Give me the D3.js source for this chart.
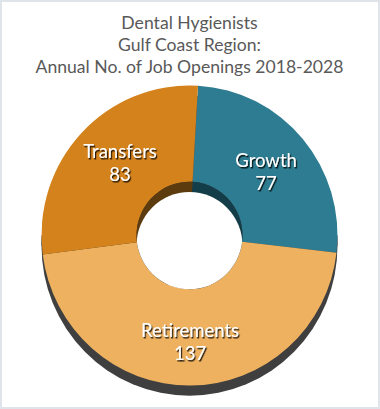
<!DOCTYPE html>
<html><head><meta charset="utf-8">
<script src="https://cdn.jsdelivr.net/npm/d3@7"></script>
<style>
html,body{margin:0;padding:0;background:#fff;}
svg{display:block;}
</style></head>
<body>
<script>
const titleLines = ["Dental Hygienists", "Gulf Coast Region:", "Annual No. of Job Openings 2018-2028"];
const categories = ["Growth", "Retirements", "Transfers"];
const values = [77, 137, 83];
const topColors = ["#2e7c91", "#eeb160", "#d4821b"];
const wallColors = ["#133d48", "#7a5a30", "#5c3b0f"];

const W = 380, H = 409;
const cx = 189.5, cy = 235.5, rOut = 148, rIn = 53, depth = 10, sy = 1.014;
const startAngle = 3.3 * Math.PI / 180;

const svg = d3.select("body").append("svg").attr("width", W).attr("height", H);
const defs = svg.append("defs");
const f = defs.append("filter").attr("id", "sh").attr("x", "-20%").attr("y", "-20%").attr("width", "140%").attr("height", "140%");
f.append("feDropShadow").attr("dx", 1.2).attr("dy", 1.5).attr("stdDeviation", 0.7).attr("flood-color", "#000").attr("flood-opacity", 0.85);
defs.append("clipPath").attr("id", "holeClip").append("circle").attr("cx", 0).attr("cy", 0).attr("r", rIn);

// frame
svg.append("rect").attr("x", 1).attr("y", 1).attr("width", W - 2).attr("height", H - 2)
  .attr("fill", "#fff").attr("stroke", "#dfe4ea").attr("stroke-width", 2);

// title
const title = svg.append("text").attr("text-anchor", "middle").attr("fill", "#595959")
  .style("font-family", "Lato, 'Noto Sans', sans-serif").style("font-size", "17.6px");
titleLines.forEach((t, i) => title.append("tspan").attr("x", W / 2 - 0.5).attr("y", 29 + i * 22).text(t));

const pie = d3.pie().sort(null).value(d => d.v)
  .startAngle(startAngle).endAngle(startAngle + 2 * Math.PI);
const data = categories.map((c, i) => ({c, v: values[i], top: topColors[i], wall: wallColors[i]}));
const arcs = pie(data);

const g = svg.append("g").attr("transform", `translate(${cx},${cy}) scale(1,${sy})`);
// side (depth)
g.append("rect").attr("x", -rOut).attr("y", 0).attr("width", 2 * rOut).attr("height", depth).attr("fill", "#3f3f3f");
g.append("circle").attr("cx", 0).attr("cy", depth).attr("r", rOut).attr("fill", "#3f3f3f");

// top face
const arcTop = d3.arc().innerRadius(rIn).outerRadius(rOut);
g.append("g").selectAll("path").data(arcs).join("path")
  .attr("d", arcTop).attr("fill", d => d.data.top);

// inner wall
const arcWall = d3.arc().innerRadius(0).outerRadius(rIn);
g.append("g").selectAll("path").data(arcs).join("path")
  .attr("d", arcWall).attr("fill", d => d.data.wall);
g.append("circle").attr("cx", 0).attr("cy", depth).attr("r", rIn)
  .attr("fill", "#fff").attr("clip-path", "url(#holeClip)");

// labels
const lab = svg.append("g").style("font-family", "Lato, 'Noto Sans', sans-serif")
  .style("font-size", "18.5px").attr("fill", "#fff").attr("text-anchor", "middle").attr("filter", "url(#sh)");
arcs.forEach(a => {
  const m = (a.startAngle + a.endAngle) / 2;
  const s = Math.sin(m), c = Math.cos(m);
  const r = 100 + 6 * Math.max(0, -c);
  const x = cx + r * s - 5 * Math.min(0, s);
  const y = cy - r * c + 7 * Math.min(0, s);
  const t = lab.append("text");
  t.append("tspan").attr("x", x).attr("y", y - 4).text(a.data.c);
  t.append("tspan").attr("x", x).attr("y", y + 19).text(a.data.v);
});
</script>
</body></html>
